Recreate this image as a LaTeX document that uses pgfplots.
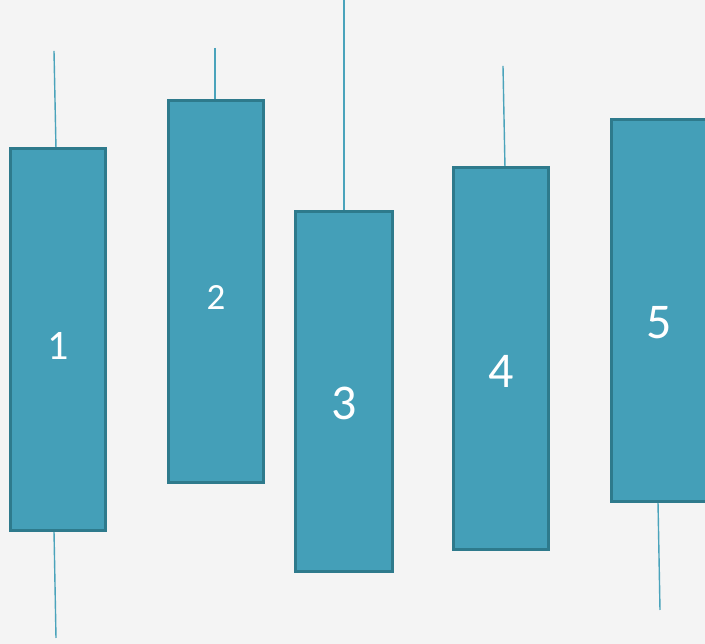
\documentclass[border=0pt]{standalone}
\usepackage{pgfplots}
\pgfplotsset{compat=1.18}
\usepackage{fontspec}
\setmainfont{Carlito}
\definecolor{bg}{HTML}{F4F4F4}
\definecolor{boxfill}{HTML}{449FB8}
\definecolor{boxedge}{HTML}{2E7A8C}
\definecolor{wick}{HTML}{4AA3BB}
\begin{document}
\begin{tikzpicture}
\begin{axis}[x=1pt,y=1pt,xmin=0,xmax=705,ymin=0,ymax=644,hide axis,clip=true,
  wickstyle/.style={draw=wick,line width=1.4pt,no markers},
  boxstyle/.style={fill=boxfill,draw=boxedge,line width=3pt,no markers}]
\addplot[fill=bg,draw=none] coordinates {(0,0) (705,0) (705,644) (0,644)} --cycle;
% wicks
\addplot[wickstyle] coordinates {(54,593) (56,495)};
\addplot[wickstyle] coordinates {(54,113) (56,6)};
\addplot[wickstyle] coordinates {(215,596) (215,543)};
\addplot[wickstyle] coordinates {(344,646) (344,432)};
\addplot[wickstyle] coordinates {(503,578) (505,476)};
\addplot[wickstyle] coordinates {(658,142) (660,34)};
% boxes
\addplot[boxstyle] coordinates {(10,113) (105,113) (105,495) (10,495)} --cycle;
\addplot[boxstyle] coordinates {(168,161) (263,161) (263,543) (168,543)} --cycle;
\addplot[boxstyle] coordinates {(295,72) (392,72) (392,432) (295,432)} --cycle;
\addplot[boxstyle] coordinates {(453,94) (548,94) (548,476) (453,476)} --cycle;
\addplot[boxstyle] coordinates {(611,142) (715,142) (715,524) (611,524)} --cycle;
% labels
\node[white,font=\fontsize{42}{46}\selectfont] at (axis cs:58,298) {1};
\node[white,font=\fontsize{37}{40}\selectfont] at (axis cs:216,346) {2};
\node[white,font=\fontsize{50}{54}\selectfont] at (axis cs:344,241) {3};
\node[white,font=\fontsize{50}{54}\selectfont] at (axis cs:501,273) {4};
\node[white,font=\fontsize{50}{54}\selectfont] at (axis cs:659,321) {5};
\end{axis}
\end{tikzpicture}
\end{document}
